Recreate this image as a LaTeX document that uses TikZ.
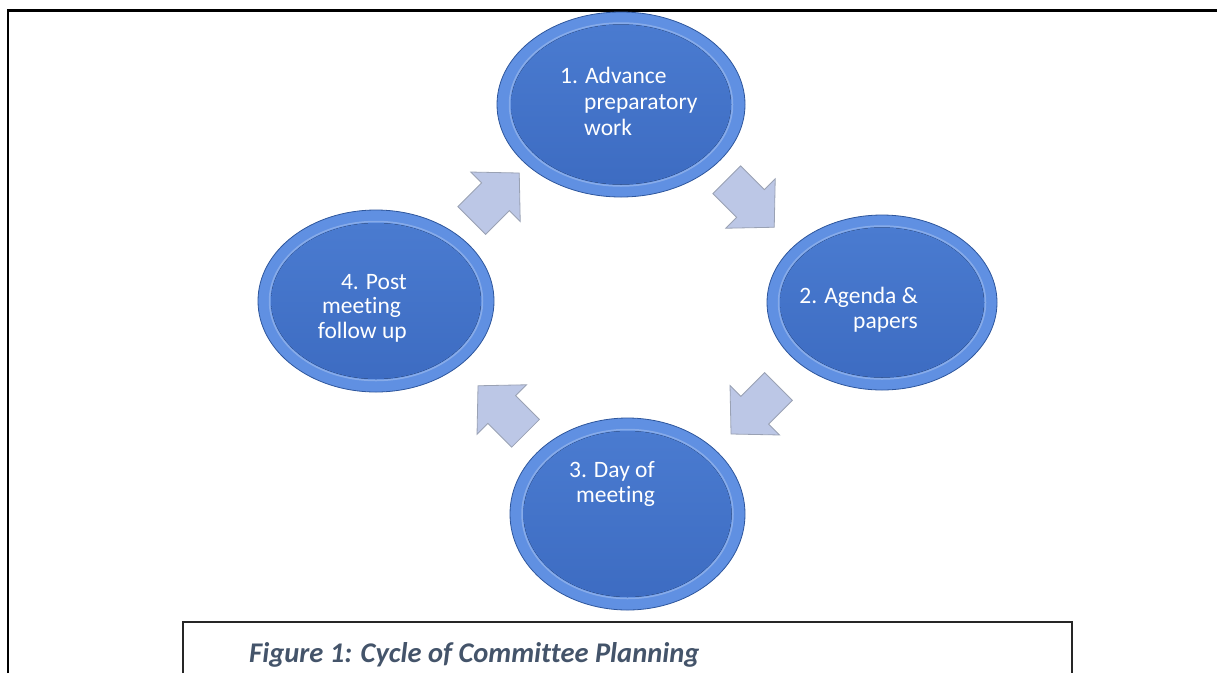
\documentclass[tikz,border=0pt]{standalone}
\usepackage{fontspec}
\setmainfont[Ligatures=NoCommon]{Carlito}
\usetikzlibrary{shapes.geometric,calc}
\definecolor{edgeblue}{HTML}{2E569C}
\definecolor{rimblue}{HTML}{6090E2}
\definecolor{inblue}{HTML}{3D6CC2}
\definecolor{inblueT}{HTML}{4A7BD0}
\definecolor{arrfill}{HTML}{BCC7E6}
\definecolor{arrline}{HTML}{9AA2B4}
\definecolor{capcol}{HTML}{44546A}
\newcommand\stagebevel[3]{%
  \fill[top color=inblueT, bottom color=inblue] (#1.center) ellipse [x radius=#2pt, y radius=#3pt];
  \draw[white, opacity=0.25, line width=1.5pt] (#1.center) ellipse [x radius=#2pt+1.5pt, y radius=#3pt+1.5pt];
}
\begin{document}
\begin{tikzpicture}[x=1pt,y=-1pt,
  stage/.style={ellipse, draw=edgeblue, line width=0.8pt, fill=rimblue, inner sep=0pt},
  lbl/.style={inner sep=0pt, text=white, font=\fontsize{23.5}{26}\selectfont},
  blockarr/.style={fill=arrfill, draw=arrline, line width=0.8pt, line join=miter, scale=1.4},
  frameline/.style={line width=2.2pt, black},
  capbox/.style={line width=1.4pt, black!85},
  captext/.style={inner sep=0pt, text=capcol, font=\bfseries\itshape\fontsize{28.5}{32}\selectfont}]
\useasboundingbox (0,0) rectangle (1217,673);
\draw[frameline] (8,673) -- (8,10.5) -- (1217,10.5);

% stages
\node[stage, minimum width=248pt, minimum height=185pt] (e1) at (621,104.5) {};
\node[stage, minimum width=230pt, minimum height=175pt] (e2) at (882,302.5) {};
\node[stage, minimum width=235pt, minimum height=192pt] (e3) at (627.5,514) {};
\node[stage, minimum width=236pt, minimum height=182pt] (e4) at (376,301) {};
\stagebevel{e1}{110}{80}
\stagebevel{e2}{102}{75}
\stagebevel{e3}{104}{83}
\stagebevel{e4}{105}{78}

% labels
\node[lbl, anchor=base west] (t1a) at (560,83) {1. Advance};
\node[lbl, anchor=base west] (t1b) at (584,109) {preparatory};
\node[lbl, anchor=base west] (t1c) at (584,135) {work};
\node[lbl, anchor=base east] (t2a) at (918,303) {2. Agenda \&};
\node[lbl, anchor=base east] (t2b) at (918,328) {papers};
\node[lbl, anchor=base east] (t3a) at (655,477) {3. Day of};
\node[lbl, anchor=base east] (t3b) at (655,502) {meeting};
\node[lbl, anchor=base east] (t4a) at (407,289) {4. Post};
\node[lbl, anchor=base west] (t4b) at (322,313) {meeting};
\node[lbl, anchor=base east] (t4c) at (407,338) {follow up};

% block arrows between stages
\coordinate (m41) at ($(e4)!0.5!(e1)+(-5,-4)$);
\coordinate (m12) at ($(e1)!0.5!(e2)+(-3,-2)$);
\coordinate (m23) at ($(e2)!0.5!(e3)+(2,0)$);
\coordinate (m34) at ($(e3)!0.5!(e4)+(2,4)$);
\draw[shift={(m41)}, rotate=45, blockarr]  (-22,-14) -- (2,-14) -- (2,-25) -- (26,0) -- (2,25) -- (2,14) -- (-22,14) -- cycle;
\draw[shift={(m12)}, rotate=-45, blockarr] (-22,-14) -- (2,-14) -- (2,-25) -- (26,0) -- (2,25) -- (2,14) -- (-22,14) -- cycle;
\draw[shift={(m23)}, rotate=-135, blockarr] (-22,-14) -- (2,-14) -- (2,-25) -- (26,0) -- (2,25) -- (2,14) -- (-22,14) -- cycle;
\draw[shift={(m34)}, rotate=135, blockarr] (-22,-14) -- (2,-14) -- (2,-25) -- (26,0) -- (2,25) -- (2,14) -- (-22,14) -- cycle;

% caption box
\draw[capbox] (183,673) -- (183,622) -- (1072,622) -- (1072,673);
\node[captext, anchor=base west] (cap) at (249,662) {Figure 1: Cycle of Committee Planning};
\end{tikzpicture}
\end{document}
